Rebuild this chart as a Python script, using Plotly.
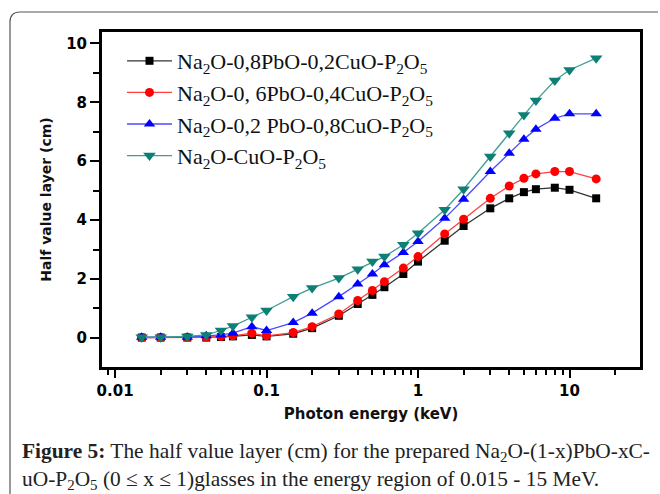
import math
import plotly.graph_objects as go

# Photon energy (as labelled on the axis)
energy = [0.015, 0.02, 0.03, 0.04, 0.05, 0.06, 0.08, 0.1, 0.15, 0.2, 0.3, 0.4,
          0.5, 0.6, 0.8, 1, 1.5, 2, 3, 4, 5, 6, 8, 10, 15]

hvl_08pbo = [0.01, 0.01, 0.01, 0.01, 0.03, 0.05, 0.10, 0.05, 0.14, 0.33, 0.75, 1.15,
             1.46, 1.72, 2.17, 2.59, 3.30, 3.80, 4.40, 4.74, 4.95, 5.05, 5.10, 5.03, 4.74]
hvl_06pbo = [0.01, 0.01, 0.02, 0.02, 0.05, 0.07, 0.16, 0.07, 0.18, 0.38, 0.81, 1.27,
             1.61, 1.91, 2.37, 2.76, 3.53, 4.03, 4.74, 5.16, 5.42, 5.57, 5.65, 5.65, 5.40]
hvl_02pbo = [0.02, 0.02, 0.02, 0.07, 0.10, 0.16, 0.38, 0.25, 0.52, 0.84, 1.40, 1.83,
             2.17, 2.48, 2.90, 3.27, 4.06, 4.71, 5.65, 6.27, 6.75, 7.09, 7.46, 7.61, 7.61]
hvl_cuo = [0.02, 0.02, 0.05, 0.10, 0.25, 0.40, 0.70, 0.93, 1.40, 1.69, 2.03, 2.33,
           2.59, 2.76, 3.16, 3.55, 4.35, 5.05, 6.16, 6.95, 7.57, 8.06, 8.74, 9.10, 9.50]

names = [
    "Na<sub>2</sub>O-0,8PbO-0,2CuO-P<sub>2</sub>O<sub>5</sub>",
    "Na<sub>2</sub>O-0, 6PbO-0,4CuO-P<sub>2</sub>O<sub>5</sub>",
    "Na<sub>2</sub>O-0,2 PbO-0,8CuO-P<sub>2</sub>O<sub>5</sub>",
    "Na<sub>2</sub>O-CuO-P<sub>2</sub>O<sub>5</sub>",
]
series = [hvl_08pbo, hvl_06pbo, hvl_02pbo, hvl_cuo]
line_colors = ["#333333", "#ff4040", "#4a4aff", "#3d9f94"]
marker_colors = ["#000000", "#ff0000", "#0000ff", "#0e7f74"]
symbols = ["square", "circle", "triangle-up", "triangle-down"]
sizes = [8, 9, 10, 11]

x_tickvals = [0.01, 0.1, 1, 10]
x_ticktext = ["0.01", "0.1", "1", "10"]

fig = go.Figure()
for i in range(4):
    fig.add_trace(go.Scatter(
        x=energy, y=series[i], mode="lines+markers", name=names[i],
        legendgroup="g%d" % i,
        line=dict(color=line_colors[i], width=1.3),
        marker=dict(symbol=symbols[i], size=sizes[i], color=marker_colors[i],
                    line=dict(width=0)),
    ))

axis_font = dict(family="DejaVu Sans", size=15, color="black", weight="bold")

fig.update_xaxes(
    type="log", range=[math.log10(0.0082), math.log10(29.2)],
    tickvals=x_tickvals, ticktext=x_ticktext,
    ticks="outside", ticklen=8, tickwidth=2, tickcolor="black",
    minor=dict(ticks="outside", ticklen=5, tickwidth=2, tickcolor="black", dtick="D1", showgrid=False),
    showline=True, linewidth=3, linecolor="black", mirror=True,
    showgrid=False, zeroline=False, tickfont=axis_font,
    title=dict(text="Photon energy (keV)", font=dict(family="DejaVu Sans", size=15, color="#111", weight="bold"), standoff=10),
)
fig.update_yaxes(
    range=[-0.99, 10.39], dtick=2, tick0=0,
    ticks="outside", ticklen=9, tickwidth=2, tickcolor="black",
    minor=dict(ticks="outside", ticklen=6, tickwidth=2, tickcolor="black", dtick=1, showgrid=False),
    showline=True, linewidth=3, linecolor="black", mirror=True,
    showgrid=False, zeroline=False, tickfont=axis_font,
    title=dict(text="Half value layer (cm)", font=dict(family="DejaVu Sans", size=14, color="#111", weight="bold"), standoff=12),
)

L, R, T, B, W, H = 102, 20, 32, 127, 660, 494
pw, ph = W - L - R, H - T - B


def px(x):
    return (x - L) / pw


def py(y):
    return (H - B - y) / ph


# rounded figure frame (left and top sides)
x0, y0, xr, rad = px(10), py(12), px(658), 10
path = "M %f,%f L %f,%f Q %f,%f %f,%f L %f,%f" % (
    x0, py(494), x0, py(12 + rad), x0, y0, px(10 + rad), y0, xr, y0)
fig.add_shape(type="path", path=path, xref="paper", yref="paper",
              line=dict(color="#555555", width=1.2))

caption = ("<b>Figure 5:</b> The half value layer (cm) for the prepared Na<sub>2</sub>O-(1-x)PbO-xC-<br>"
           "uO-P<sub>2</sub>O<sub>5</sub> (0 ≤ x ≤ 1)glasses in the energy region of 0.015 - 15 MeV.")
fig.add_annotation(text=caption, xref="paper", yref="paper", x=px(20), y=py(437),
                   xanchor="left", yanchor="top", align="left", showarrow=False,
                   font=dict(family="Liberation Serif", size=21.4, color="#222"))

fig.update_layout(
    width=W, height=H, autosize=False,
    margin=dict(l=L, r=R, t=T, b=B, pad=0),
    paper_bgcolor="white", plot_bgcolor="white",
    legend=dict(x=px(122), y=py(40), xanchor="left", yanchor="top",
                font=dict(family="Liberation Serif", size=22, color="#111"),
                itemwidth=45,
                bgcolor="rgba(0,0,0,0)", tracegroupgap=0),
    showlegend=True,
)

fig.write_html("out.html")
